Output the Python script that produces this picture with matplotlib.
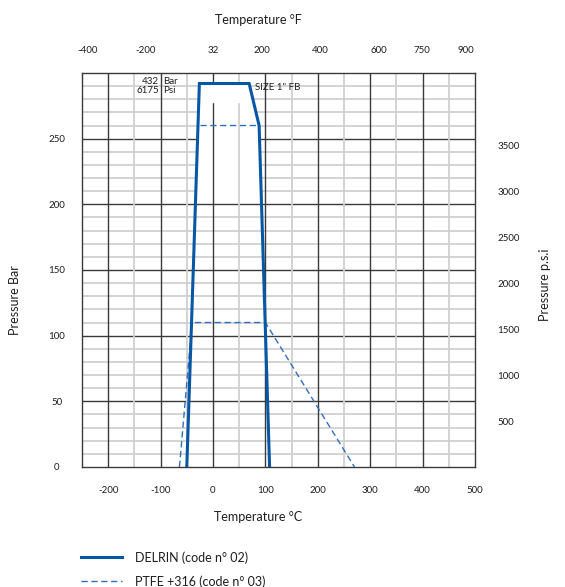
import numpy as np
import matplotlib
matplotlib.use("Agg")
import matplotlib.pyplot as plt

plt.rcParams['font.family'] = ['Lato', 'DejaVu Sans']
plt.rcParams['axes.unicode_minus'] = False

# data (temperature in C, pressure in bar)
delrin_temp = [-50, -26, 69, 88, 108]
delrin_bar = [0, 292, 292, 260, 0]
ptfe_temp = [-64, -40, 100, 270, np.nan, -24, 88]
ptfe_bar = [0, 110, 110, 0, np.nan, 260, 260]

c_ticks = [-200, -100, 0, 100, 200, 300, 400, 500]
f_ticks = [-400, -200, 32, 200, 400, 600, 750, 900]
bar_ticks = [0, 50, 100, 150, 200, 250]
psi_ticks = [500, 1000, 1500, 2000, 2500, 3000, 3500]
PSI_PER_BAR = 6175 / 432

DARK = '#3a3a3a'
LIGHT = '#d0d0d0'
TXT = '#1e1e1e'


def c2f(c):
    return c * 9 / 5 + 32


def f2c(f):
    return (f - 32) * 5 / 9


def clip_above(xs, ys, lo):
    # polygon of the part of the curve lying above pressure lo
    px, py = [], []
    for i in range(len(xs) - 1):
        x0, y0, x1, y1 = xs[i], ys[i], xs[i + 1], ys[i + 1]
        if y0 >= lo:
            px.append(x0); py.append(y0)
        if (y0 - lo) * (y1 - lo) < 0:
            t = (lo - y0) / (y1 - y0)
            px.append(x0 + t * (x1 - x0)); py.append(lo)
    if ys[-1] >= lo:
        px.append(xs[-1]); py.append(ys[-1])
    return px, py


fig = plt.figure(figsize=(5.65, 5.87), dpi=100)
ax = fig.add_axes([82 / 565, 1 - 467 / 587, 393 / 565, 394 / 587])
ax.set_xlim(-250, 500)
ax.set_ylim(0, 300)

# grid
for y in np.arange(10, 300, 10):
    dark = y % 50 == 0
    ax.axhline(y, color=DARK if dark else LIGHT, lw=1.0 if dark else 1.3, zorder=1)
mx, my = clip_above(delrin_temp, delrin_bar, 205)
ax.fill(mx, my, color='white', lw=0, zorder=2)
for x in np.arange(-200, 500, 50):
    dark = x % 100 == 0
    ax.axvline(x, color=DARK if dark else LIGHT, lw=1.0 if dark else 1.3, zorder=3)
mx, my = clip_above(delrin_temp, delrin_bar, 277)
ax.fill(mx, my, color='white', lw=0, zorder=4)

l2, = ax.plot(ptfe_temp, ptfe_bar, color='#2f6fbf', lw=1.0, dashes=(4.5, 2.6), zorder=5)
l1, = ax.plot(delrin_temp, delrin_bar, color='#0757a6', lw=2.2, zorder=6,
              solid_joinstyle='miter')

for s in ax.spines.values():
    s.set_color(DARK)
    s.set_linewidth(1.0)
    s.set_zorder(7)

ax.set_xticks(c_ticks)
ax.set_yticks(bar_ticks)
ax.tick_params(axis='x', length=0, pad=13.5, labelsize=7, labelcolor=TXT)
ax.tick_params(axis='y', length=0, pad=18, labelsize=7, labelcolor=TXT)
for lab in ax.get_yticklabels():
    lab.set_ha('center')

secx = ax.secondary_xaxis('top', functions=(c2f, f2c))
secx.set_xticks(f_ticks)
secx.tick_params(length=0, pad=13, labelsize=7, labelcolor=TXT)
secx.spines['top'].set_visible(False)

secy = ax.secondary_yaxis('right', functions=(lambda b: b * PSI_PER_BAR,
                                              lambda p: p / PSI_PER_BAR))
secy.set_yticks(psi_ticks)
secy.tick_params(length=0, pad=16, labelsize=7, labelcolor=TXT)
secy.spines['right'].set_visible(False)

# annotations
ax.text(-103, 297, '432\n6175', ha='right', va='top', fontsize=7, color=TXT,
        linespacing=1.0, zorder=8)
ax.text(-95, 297, 'Bar\nPsi', ha='left', va='top', fontsize=7, color=TXT,
        linespacing=1.0, zorder=8)
ax.text(80, 289, 'SIZE 1" FB', ha='left', va='center', fontsize=7, color=TXT, zorder=8)

fig.text(258 / 565, 1 - 20 / 587, 'Temperature °F', ha='center', va='center',
         fontsize=9, color=TXT)
fig.text(258 / 565, 1 - 517 / 587, 'Temperature °C', ha='center', va='center',
         fontsize=9, color=TXT)
fig.text(15 / 565, 1 - 300 / 587, 'Pressure Bar', ha='center', va='center',
         rotation=90, fontsize=9, color=TXT)
fig.text(545 / 565, 1 - 285 / 587, 'Pressure p.s.i', ha='center', va='center',
         rotation=90, fontsize=9, color=TXT)

fig.legend([l1, l2], ['DELRIN (code n° 02)', 'PTFE +316 (code n° 03)'],
           loc='upper left', bbox_to_anchor=(81 / 565, 1 - 551 / 587),
           frameon=False, fontsize=9, handlelength=3.3, handletextpad=1.0,
           labelspacing=0.92, borderpad=0, borderaxespad=0, labelcolor=TXT)

fig.savefig('out.png', dpi=100)
